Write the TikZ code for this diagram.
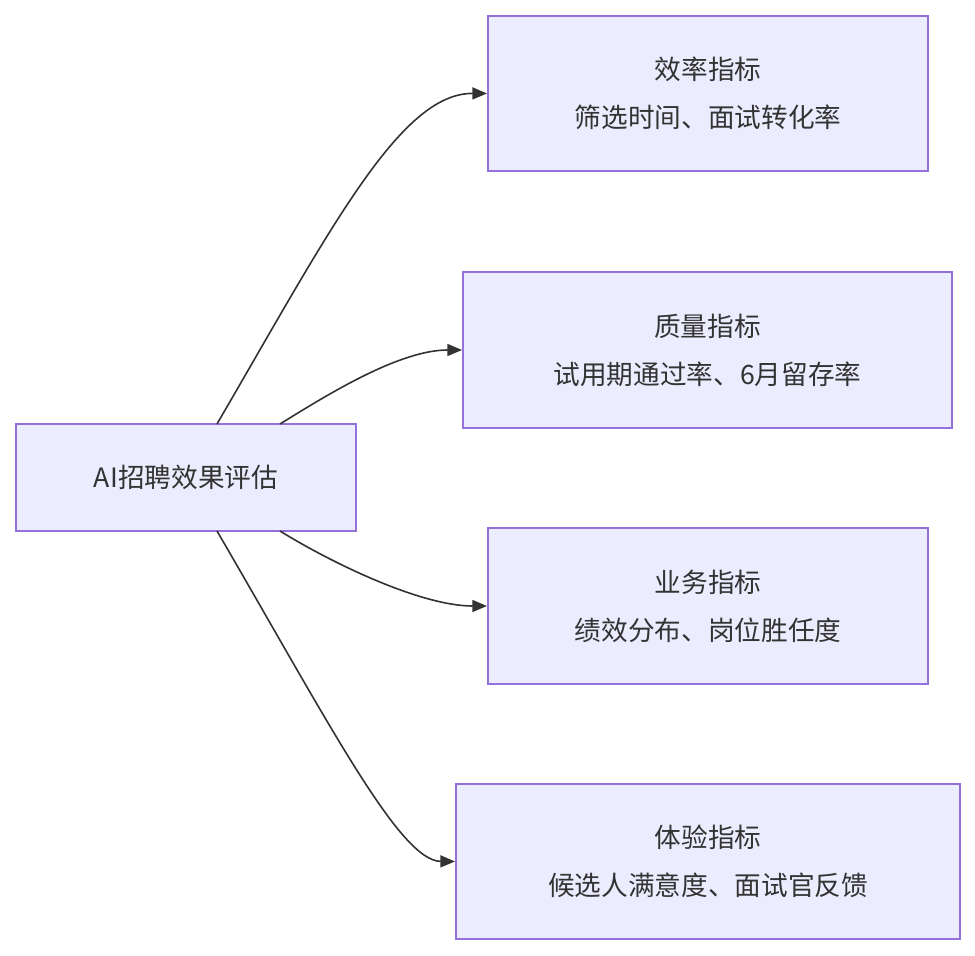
\documentclass[tikz,border=0pt]{standalone}
\usepackage{fontspec}
\setmainfont{Noto Sans CJK SC}
\usetikzlibrary{arrows.meta}
\definecolor{boxfill}{HTML}{ECECFF}
\definecolor{boxline}{HTML}{9370DB}
\definecolor{ink}{HTML}{333333}
\tikzset{
  box/.style={draw=boxline, fill=boxfill, line width=1.5pt, text=ink,
    align=center, font=\fontsize{20}{36}\selectfont, inner sep=0pt},
  arr/.style={draw=ink, line width=1.2pt, -{Triangle[length=11pt,width=9pt]}}
}
\begin{document}
\begin{tikzpicture}[x=0.75pt,y=-0.75pt]
\useasboundingbox (0,0) rectangle (975,956);
\node[box, minimum width=340*0.75pt, minimum height=107*0.75pt](root) at (186,477.5){AI招聘效果评估};
\node[box, minimum width=440*0.75pt, minimum height=155*0.75pt](eff) at (708,93.5){效率指标\\筛选时间、面试转化率};
\node[box, minimum width=489*0.75pt, minimum height=156*0.75pt](qual) at (707.5,350){质量指标\\试用期通过率、6月留存率};
\node[box, minimum width=440*0.75pt, minimum height=156*0.75pt](biz) at (708,606){业务指标\\绩效分布、岗位胜任度};
\node[box, minimum width=504*0.75pt, minimum height=155*0.75pt](exp) at (708,861.5){体验指标\\候选人满意度、面试官反馈};
% start points on the root box
\coordinate (s1) at (217,424);
\coordinate (s2) at (280,424);
\coordinate (s3) at (280,531);
\coordinate (s4) at (217,531);
\draw[arr] (s1) .. controls (330,230) and (400,93) .. (eff.west);
\draw[arr] (s2) .. controls (330,393) and (400,350) .. (qual.west);
\draw[arr] (s3) .. controls (330,562) and (420,606) .. (biz.west);
\draw[arr] (s4) .. controls (330,725) and (400,861) .. (exp.west);
\end{tikzpicture}
\end{document}
